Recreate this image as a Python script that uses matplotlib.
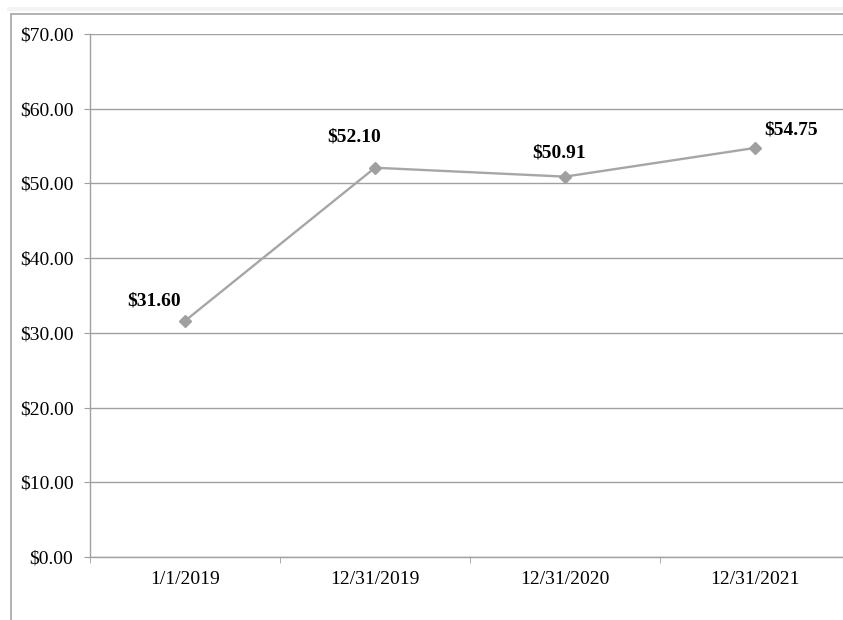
import matplotlib.pyplot as plt
import matplotlib.patches as mpatches
import numpy as np

dates = ['1/1/2019', '12/31/2019', '12/31/2020', '12/31/2021']
values = [31.60, 52.10, 50.91, 54.75]
yticks = [0, 10, 20, 30, 40, 50, 60, 70]

W, H = 843, 620
dpi = 100
fig = plt.figure(figsize=(W / dpi, H / dpi), dpi=dpi)
plt.rcParams['font.family'] = ['Liberation Serif', 'DejaVu Serif']

# light strip at the very top and the outer chart frame
fig.patches.append(mpatches.Rectangle((7 / W, 1 - 11 / H), 1, 4 / H, transform=fig.transFigure,
                                      facecolor='#f4f4f4', edgecolor='none'))
fig.patches.append(mpatches.Rectangle((11 / W, -0.1), 1.2, 1.1 - 14 / H, transform=fig.transFigure,
                                      facecolor='none', edgecolor='#a6a6a6', linewidth=1.2))

ax = fig.add_axes([90 / W, 1 - 557 / H, 760 / W, 523 / H])
xs = np.arange(len(dates))
ax.plot(xs, values, color='#a6a6a6', linewidth=1.7, marker='D', markersize=6.5,
        markerfacecolor='#a0a0a0', markeredgecolor='#a0a0a0', zorder=3)

offsets = [(-22, 14), (-15, 22), (-4, 17), (26, 13)]
for x, v, off in zip(xs, values, offsets):
    ax.annotate('${:.2f}'.format(v), (x, v), xytext=off, textcoords='offset points',
                ha='center', va='center', fontsize=14, fontweight='bold', color='black')

ax.set_xlim(-0.5, 3.5)
ax.set_ylim(0, 70)
ax.set_yticks(yticks)
ax.set_yticklabels(['${:.2f}'.format(t) for t in yticks], fontsize=14)
ax.yaxis.grid(True, color='#a0a0a0', linewidth=1)
ax.set_axisbelow(True)

ax.set_xticks(xs)
ax.set_xticklabels(dates, fontsize=14)
ax.set_xticks(np.arange(-0.5, 4, 1), minor=True)
ax.tick_params(axis='x', which='major', length=0, pad=10)
ax.tick_params(axis='x', which='minor', length=4, color='#a0a0a0', direction='out')
ax.tick_params(axis='y', length=4, color='#a0a0a0', direction='out', pad=8)

for s in ['top', 'right']:
    ax.spines[s].set_visible(False)
for s in ['left', 'bottom']:
    ax.spines[s].set_color('#a0a0a0')
    ax.spines[s].set_linewidth(1)

fig.savefig('out.png', dpi=dpi)
